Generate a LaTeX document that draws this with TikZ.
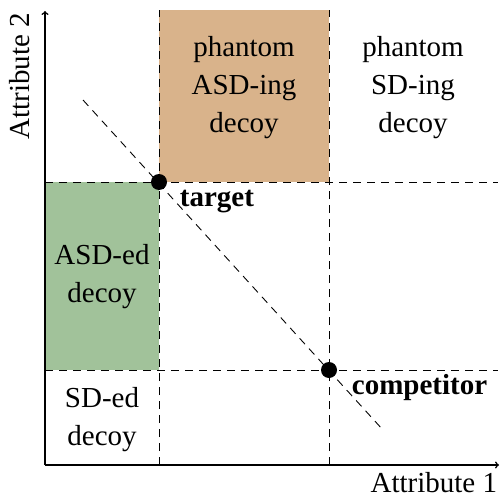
\documentclass[tikz,border=0pt]{standalone}
\usepackage{fontspec}
\setmainfont{Liberation Serif}
\usepackage{tikz}
\definecolor{tanbox}{RGB}{217,179,139}
\definecolor{greenbox}{RGB}{161,194,154}
\tikzset{
  lbl/.style={inner sep=0.75pt, align=center, font={\fontsize{29}{38}\selectfont}},
  guide/.style={dash pattern=on 8pt off 6pt, line width=0.9pt},
  pt/.style={circle, fill=black, inner sep=0pt, minimum size=16pt},
  axis/.style={line width=1.5pt, -to}
}
\begin{document}
\begin{tikzpicture}[x=1pt,y=1pt,yscale=-1,xscale=1]
\useasboundingbox (0,0) rectangle (503,500);

% Shaded boxes
\fill [greenbox] (45,182) rectangle (159,370);
\fill [tanbox] (159,10) rectangle (329,182);

% Guide lines
\coordinate (top1) at (159,10);
\coordinate (top2) at (329,10);
\coordinate (bot1) at (159,465);
\coordinate (bot2) at (329,465);
\coordinate (lft1) at (45,182);
\coordinate (lft2) at (45,370);
\coordinate (rgt1) at (498,182);
\coordinate (rgt2) at (498,370);
\draw [guide] (bot1) -- (top1) ;
\draw [guide] (bot2) -- (top2) ;
\draw [guide] (lft1) -- (rgt1) ;
\draw [guide] (lft2) -- (rgt2) ;

% Diagonal
\coordinate (dgA) at (83,100);
\coordinate (dgB) at (383,430);
\draw [guide] (dgA) -- (dgB) ;

% Axes
\coordinate (orig) at (45,465);
\coordinate (xend) at (499,465);
\coordinate (yend) at (45,11);
\draw [axis] (orig) -- (xend) ;
\draw [axis] (orig) -- (yend) ;

% Points
\node [pt] (target) at (159,182) {};
\node [pt] (comp) at (329,370) {};

% Text Node
\node [lbl, anchor=north west] (tlbl) at (179,189) {\textbf{target}};
% Text Node
\node [lbl, anchor=north west] (clbl) at (351,373) {\textbf{competitor}};
% Text Node
\node [lbl] (asding) at (244,88) {phantom\\ASD-ing\\decoy};
% Text Node
\node [lbl] (sding) at (413,88) {phantom\\SD-ing\\decoy};
% Text Node
\node [lbl] (asded) at (102,277) {ASD-ed\\decoy};
% Text Node
\node [lbl] (sded) at (102,420) {SD-ed\\decoy};
% Text Node
\node [lbl, anchor=north east] (xlbl) at (498,471) {Attribute 1};
% Text Node
\node [lbl, rotate=90, anchor=north east] (ylbl) at (8,12) {Attribute 2};

\end{tikzpicture}
\end{document}
